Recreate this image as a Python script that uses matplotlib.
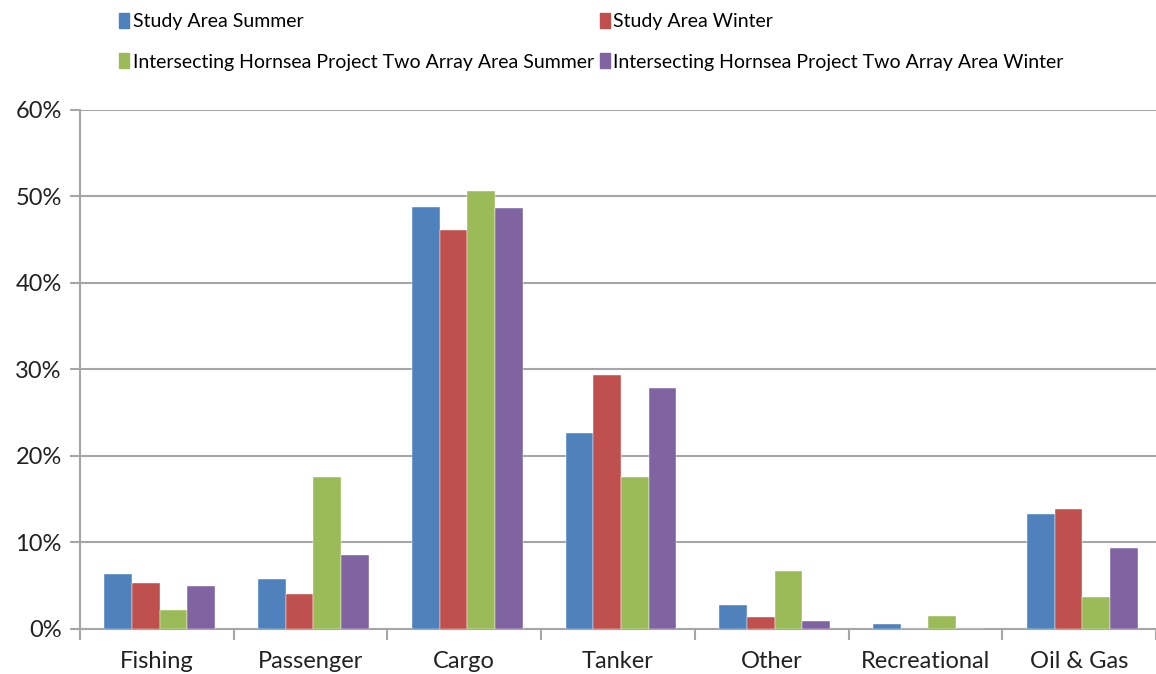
import matplotlib.pyplot as plt
import numpy as np
from matplotlib.patches import Patch

categories = ["Fishing", "Passenger", "Cargo", "Tanker", "Other", "Recreational", "Oil & Gas"]
series_names = ["Study Area Summer", "Study Area Winter",
                "Intersecting Hornsea Project Two Array Area Summer",
                "Intersecting Hornsea Project Two Array Area Winter"]
study_summer = [6.3, 5.8, 48.8, 22.6, 2.7, 0.6, 13.3]
study_winter = [5.3, 4.0, 46.1, 29.4, 1.4, 0.0, 13.8]
hornsea_summer = [2.2, 17.6, 50.6, 17.6, 6.7, 1.5, 3.7]
hornsea_winter = [5.0, 8.5, 48.7, 27.8, 0.9, 0.0, 9.3]
colors = ["#4F81BD", "#C0504D", "#9BBB59", "#8064A2"]

plt.rcParams['font.family'] = ['Lato', 'DejaVu Sans']

fig = plt.figure(figsize=(11.56, 6.74), dpi=100)
ax = fig.add_axes([0.069, 0.067, 0.931, 0.77])

x = np.arange(len(categories))
w = 0.18
all_series = [study_summer, study_winter, hornsea_summer, hornsea_winter]
for i, (vals, c) in enumerate(zip(all_series, colors)):
    ax.bar(x + (i - 1.5) * w + 0.02, vals, width=w, color=c, zorder=3,
           edgecolor='white', linewidth=0.3)

ax.set_ylim(0, 60)
ax.set_xlim(-0.5, 6.455)
ax.set_yticks(range(0, 61, 10))
ax.set_yticklabels([f"{v}%" for v in range(0, 61, 10)], fontsize=17, color='#222222')
ax.yaxis.grid(True, color='#a6a6a6', linewidth=1.5, zorder=0)

ax.set_xticks(x)
ax.set_xticklabels(categories, fontsize=17, color='#222222')
ax.tick_params(axis='x', which='major', length=0, pad=16)
ax.set_xticks(np.arange(-0.5, 7, 1), minor=True)
ax.tick_params(axis='x', which='minor', length=8, color='#a6a6a6', width=1.5)
ax.tick_params(axis='y', length=7, color='#a6a6a6', width=1.5, pad=6)

for s in ['top', 'right']:
    ax.spines[s].set_visible(False)
for s in ['left', 'bottom']:
    ax.spines[s].set_color('#a6a6a6')
    ax.spines[s].set_linewidth(1.5)

# legend fills column-wise, so reorder to get two rows
handles = [Patch(color=colors[k]) for k in [0, 2, 1, 3]]
labels = [series_names[k] for k in [0, 2, 1, 3]]
fig.legend(handles, labels, ncol=2, loc='upper left', bbox_to_anchor=(0.088, 1.007),
           frameon=False, fontsize=14, handlelength=0.5, handleheight=0.8,
           handletextpad=0.2, columnspacing=0.3, labelspacing=1.2)

plt.savefig('out.png', dpi=100)
